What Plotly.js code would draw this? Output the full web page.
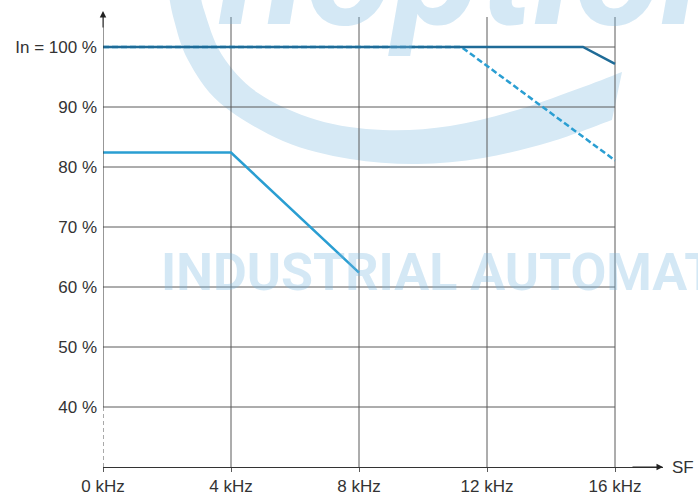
<!DOCTYPE html>
<html>
<head>
<meta charset="utf-8">
<script src="https://cdn.plot.ly/plotly-3.0.1.min.js"></script>
<style>html,body{margin:0;padding:0;background:#fff;}#chart{width:698px;height:496px;}</style>
</head>
<body>
<div id="chart"></div>
<script>
// ---- data ----
const freqTicks = [0, 4, 8, 12, 16];
const freqLabels = ["0 kHz", "4 kHz", "8 kHz", "12 kHz", "16 kHz"];
const pctTicks = [40, 50, 60, 70, 80, 90, 100];
const pctLabels = ["40 %", "50 %", "60 %", "70 %", "80 %", "90 %", "In = 100 %"];

const darkX = [0, 15, 16];
const darkY = [100, 100, 97.2];
const dashX = [0, 11.2, 16];
const dashY = [100, 100, 81.1];
const lightX = [0, 4, 8];
const lightY = [82.4, 82.4, 62.4];

// ---- layout geometry ----
const W = 698, H = 496;
const M = {l: 103, r: 35, t: 11, b: 29};
const xRange = [0, 17.5];
const yRange = [30, 106];
const PW = W - M.l - M.r, PH = H - M.t - M.b;
function px2paper(px, py) {
  return [(px - M.l) / PW, 1 - (py - M.t) / PH];
}

// watermark swoosh (decoration, pixel outline)
const swooshOuter = [[168,-10],[174,20],[188,60],[220,103],[283,141],[350,159],[417,164],[483,158],[550,142],[612,120]];
const swooshInner = [[622,72],[583,87],[517,110],[450,126],[383,130],[317,120],[258,93],[222,55],[204,10],[200,-10]];
function smoothPath(pts) {
  // Catmull-Rom -> cubic Bezier, in paper coordinates
  const P = pts.map(p => px2paper(p[0], p[1]));
  const f = q => q[0].toFixed(4) + "," + q[1].toFixed(4);
  let d = "M" + f(P[0]);
  for (let i = 0; i < P.length - 1; i++) {
    const p0 = P[Math.max(i - 1, 0)], p1 = P[i], p2 = P[i + 1], p3 = P[Math.min(i + 2, P.length - 1)];
    const c1 = [p1[0] + (p2[0] - p0[0]) / 6, p1[1] + (p2[1] - p0[1]) / 6];
    const c2 = [p2[0] - (p3[0] - p1[0]) / 6, p2[1] - (p3[1] - p1[1]) / 6];
    d += " C" + f(c1) + " " + f(c2) + " " + f(p2);
  }
  return d;
}
const swooshPath = smoothPath(swooshOuter) + " L" +
  smoothPath(swooshInner).slice(1) + " Z";

const gridColor = "#5a5a5a";
const shapes = [];
shapes.push({type: "path", xref: "paper", yref: "paper", layer: "below",
  path: swooshPath, fillcolor: "#d6e9f5", line: {width: 0}});
// horizontal grid lines up to 16 kHz
pctTicks.forEach(v => shapes.push({type: "line", xref: "x", yref: "y", layer: "below",
  x0: freqTicks[0], x1: freqTicks[freqTicks.length - 1], y0: v, y1: v,
  line: {color: gridColor, width: 1}}));
// vertical grid lines
freqTicks.slice(1).forEach(v => shapes.push({type: "line", xref: "x", yref: "y", layer: "below",
  x0: v, x1: v, y0: yRange[0], y1: 105,
  line: {color: gridColor, width: 1}}));
// y axis: solid above 40 %, dashed below
shapes.push({type: "line", xref: "x", yref: "y", x0: 0, x1: 0, y0: 40, y1: 105.6,
  line: {color: "#333", width: 1}});
shapes.push({type: "line", xref: "x", yref: "y", x0: 0, x1: 0, y0: yRange[0], y1: 40,
  line: {color: "#555", width: 1, dash: "4px,3px"}});

const traces = [
  {x: dashX, y: dashY, mode: "lines", line: {color: "#2a9ed2", width: 2.5, dash: "6px,3px"}, hoverinfo: "skip"},
  {x: darkX, y: darkY, mode: "lines", line: {color: "#1f6b97", width: 2.5}, hoverinfo: "skip"},
  {x: lightX, y: lightY, mode: "lines", line: {color: "#2a9ed2", width: 2.5}, hoverinfo: "skip"}
];

const font = {family: "Liberation Sans, Arial, sans-serif", size: 17, color: "#333"};

const layout = {
  width: W, height: H,
  margin: M,
  paper_bgcolor: "#fff", plot_bgcolor: "rgba(0,0,0,0)",
  showlegend: false,
  font: font,
  xaxis: {
    range: xRange, fixedrange: true, automargin: false,
    tickmode: "array", tickvals: freqTicks, ticktext: freqLabels,
    showgrid: false, zeroline: false,
    showline: true, linecolor: "#333", linewidth: 1,
    ticks: "outside", ticklen: 4, tickcolor: gridColor, tickwidth: 1,
    ticklabelstandoff: 0
  },
  yaxis: {
    range: yRange, fixedrange: true, automargin: false,
    tickmode: "array", tickvals: pctTicks, ticktext: pctLabels,
    showgrid: false, zeroline: false, showline: false,
    ticks: "", ticklabelstandoff: 5
  },
  shapes: shapes,
  annotations: [
    {xref: "x", yref: "y", axref: "x", ayref: "y", x: 0, y: 106, ax: 0, ay: 103,
     text: "", showarrow: true, arrowhead: 2, arrowsize: 1.3, arrowwidth: 1, arrowcolor: "#222"},
    {xref: "x", yref: "y", axref: "x", ayref: "y", x: 17.5, y: yRange[0], ax: 16.5, ay: yRange[0],
     text: "", showarrow: true, arrowhead: 2, arrowsize: 1.3, arrowwidth: 1, arrowcolor: "#222"},
    {xref: "paper", yref: "y", x: (670 - M.l) / PW, y: yRange[0], xanchor: "left", yanchor: "middle",
     text: "SF", showarrow: false, font: font},
    {xref: "paper", yref: "paper", x: px2paper(159, 0)[0], y: px2paper(0, 272)[1],
     xanchor: "left", yanchor: "middle", showarrow: false, text: "INDUSTRIAL AUTOMATION",
     font: {family: "Roboto, sans-serif", size: 52, weight: 700, color: "rgba(120,185,225,0.32)"}},
    {xref: "paper", yref: "paper", x: px2paper(216, 0)[0], y: px2paper(0, -31)[1],
     xanchor: "left", yanchor: "middle", showarrow: false, text: "noptions",
     font: {family: "Roboto, sans-serif", size: 160, weight: 700, style: "italic", color: "rgba(120,185,225,0.32)"}}
  ]
};

Plotly.newPlot("chart", traces, layout, {staticPlot: true, displayModeBar: false});
</script>
</body>
</html>
